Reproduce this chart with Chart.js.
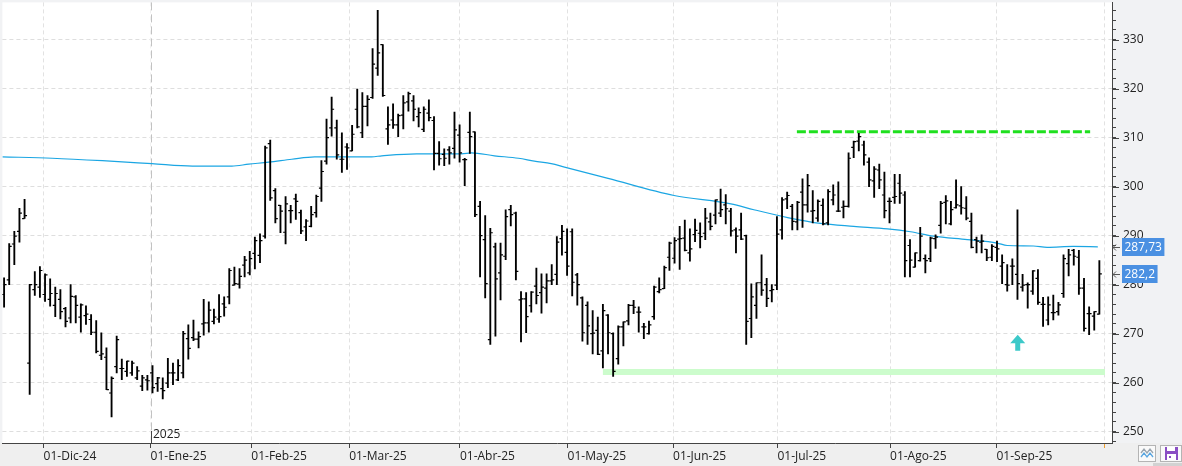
<!DOCTYPE html>
<html lang="es">
<head>
<meta charset="utf-8">
<title>Cotización diaria</title>
<script src="https://cdn.jsdelivr.net/npm/chart.js@4.4.1/dist/chart.umd.min.js"></script>
<style>
  html, body { margin: 0; padding: 0; background: #f1f2f4; overflow: hidden; }
  #contenedor { width: 1182px; height: 466px; position: relative; }
</style>
</head>
<body>
<div id="contenedor"><canvas id="grafico"></canvas></div>
<script>
// sesiones diarias, de mediados de noviembre 2024 a finales de septiembre 2025
const apertura = [
  278, 281, 288.3, 290.9, 293.5, 264, 279, 279.5, 278, 277,
  275.8, 277, 275.1, 273.2, 277.5, 273.4, 273.7, 272.9, 270.3, 265.6,
  265.2, 257.9, 263.3, 262.9, 262.3, 262, 261, 259.3, 260.6, 262,
  259.8, 258.8, 259.9, 262, 260.6, 262, 269, 269.2, 268.9, 272,
  272.2, 272.5, 273, 276.1, 277.5, 279.9, 280.1, 284, 282.4, 286.4,
  286, 289.9, 308.8, 299.2, 296.2, 290.7, 295.1, 297.5, 294.7, 291.8,
  291.9, 294.7, 299.7, 305.2, 312, 312, 305.6, 308.1, 307.3, 315.8,
  311, 316.4, 318.2, 324.2, 329, 311.8, 313.6, 312.6, 314.6, 317.3,
  317.5, 314.3, 311.7, 315, 313.5, 306.8, 306.6, 307.5, 307.8, 310.5,
  305.5, 311.1, 311.2, 296, 289.2, 268.8, 287.7, 282.4, 285.8, 295.3,
  294.6, 276.9, 277.1, 275.7, 279.7, 278.4, 279.3, 280.8, 282.1, 289.4,
  286.6, 290.8, 282, 277.3, 275.8, 270, 270.7, 266.5, 273.8, 270,
  264.9, 271.4, 272.6, 275.8, 274.4, 271.4, 270, 273.5, 278.6, 279.2,
  285.6, 285.4, 289.3, 289.5, 286.5, 290.2, 290.5, 290.5, 292.8, 294.2,
  294.6, 296.3, 295, 291.2, 291.2, 290, 273.1, 275.8, 280.4, 280,
  278.8, 279.9, 291.2, 297.5, 296, 292.8, 298.9, 296.3, 295, 293.6,
  296.2, 292.6, 297.3, 295, 295.8, 296, 308, 309.3, 308.5, 305,
  301.2, 303.4, 298.3, 297, 297.8, 300.7, 298.3, 288, 283.6, 284.9,
  285.3, 285.3, 289.4, 292.1, 296.8, 292.4, 295.7, 296.1, 295.6, 292.9,
  289.2, 288.7, 287.2, 285.6, 287.6, 283.8, 280, 283.8, 282.1, 279.5,
  280, 278.7, 281.3, 276, 272.8, 274.3, 274.5, 278.2, 284.3, 287,
  285.6, 279.3, 274.1, 273.6, 274
]
const maximo = [
  281.4, 288.4, 290.9, 295.6, 297.4, 280.1, 282.7, 283.7, 282.2, 281.2,
  279.5, 279, 275.4, 280, 277.8, 276.1, 275.7, 273.9, 272.7, 270.2,
  267.1, 261.2, 269.5, 264.8, 264.4, 264.4, 263.3, 261.5, 261.5, 263.5,
  261.1, 261, 265, 264, 264.7, 270.5, 271.8, 272.8, 270.4, 277,
  276.5, 275, 278, 277.5, 283.3, 283.6, 283.3, 285.8, 286.8, 289.7,
  290.4, 308.3, 309.5, 299.6, 296.2, 298, 296.2, 298.5, 295.2, 293.3,
  296, 298.3, 305.3, 313.8, 318.3, 313.6, 311, 308.8, 312.5, 319.9,
  319.2, 318.6, 328.2, 336, 329, 316.3, 316.9, 314.8, 318.6, 319.3,
  318.6, 316.1, 316.3, 317.7, 314.3, 309.2, 307.7, 308.2, 315.2, 312.6,
  305.8, 315.2, 311.2, 297, 294.1, 291.5, 288.5, 288.5, 295.3, 296.2,
  294.8, 278.6, 278.4, 278.6, 283.4, 282.2, 282.2, 284.1, 289.8, 292.1,
  291.4, 291.4, 282.3, 277.5, 276.5, 274.7, 273.4, 276, 273.9, 270.2,
  271.6, 272.4, 276, 276.8, 275.5, 272.1, 272.6, 279.7, 281.4, 283.8,
  288.7, 289.6, 291.9, 293.2, 291.4, 293.4, 292.6, 295.6, 294.6, 297.3,
  299.5, 298.4, 295.6, 291.6, 294.6, 290.1, 280.2, 280.4, 286.1, 281.3,
  280, 293.9, 297.8, 298.9, 296.4, 297, 301.6, 302.5, 299.2, 297.3,
  297.5, 299.4, 300.4, 301, 297.1, 306.9, 309.3, 310.9, 309.3, 305.9,
  304.1, 304.6, 303, 297.7, 302.5, 302.5, 299, 289.2, 286.5, 291.7,
  286.1, 289.7, 290.2, 297, 298.2, 297, 301.4, 300, 298, 294.6,
  289.7, 290.2, 287.2, 288.2, 288.9, 286.1, 284.1, 285.3, 295.3, 282.1,
  280.4, 282.9, 283.1, 277.4, 277.5, 277.9, 276.4, 286.1, 287.2, 287.2,
  287, 281.3, 275.5, 274.5, 284.9
]
const minimo = [
  275.4, 280, 284.1, 288.7, 293.5, 257.6, 277.8, 277.4, 276.6, 275.6,
  273.5, 273, 271.4, 272.2, 272.2, 270.3, 271.9, 269.8, 266.1, 264.7,
  258.6, 253, 262, 260.6, 261.3, 261.5, 260.6, 258.4, 258.5, 257.9,
  258.2, 256.7, 259, 259.6, 260.4, 261, 264.8, 268.6, 267.1, 269.7,
  270.3, 272, 272.3, 273.6, 276.1, 279.9, 279.3, 281.6, 282, 283.2,
  284.5, 289.5, 297.2, 292.6, 290.6, 288.3, 292.6, 293.3, 290.4, 289,
  291.8, 293.8, 297, 304.6, 310.3, 305.6, 302.9, 303.5, 307.3, 312,
  310, 312.4, 318, 322.7, 318.4, 308.6, 311.9, 310.2, 311.8, 315.4,
  313.4, 312.2, 311.2, 313.4, 303.4, 304.4, 304.3, 304.6, 305.8, 305,
  300.2, 306.8, 293.9, 281.6, 277.3, 267.8, 269.5, 276.9, 285.1, 292,
  281, 268.3, 270.2, 274.4, 276.1, 274.2, 276.3, 280, 280, 286,
  281.9, 277.7, 275.8, 268.5, 267.8, 265.9, 265.7, 263, 265.9, 261.3,
  263.8, 267.5, 271.8, 274.1, 270.3, 269, 269.9, 272.9, 278.3, 279.2,
  282.9, 284.4, 283.1, 286.9, 284.8, 288.8, 287.5, 289.2, 291.2, 292.4,
  293.9, 292.4, 289.9, 286.5, 289.2, 267.8, 269.2, 273.1, 277.8, 275.5,
  276.5, 279, 289.3, 295.5, 291.2, 291.2, 291.7, 294.8, 292.6, 292.9,
  292.2, 292.2, 296.3, 294.9, 293.6, 295.8, 305.9, 307.3, 304.4, 300,
  297.8, 299.6, 293.6, 292.6, 296.6, 296.6, 281.6, 281.6, 283.6, 284.8,
  282.4, 284.7, 287.4, 290.5, 292.4, 292.2, 295.6, 294.4, 293.2, 287.5,
  286.5, 286.5, 284.9, 284.9, 284.7, 280.2, 278.7, 280, 277, 278.7,
  275.2, 278, 276, 271.5, 271.8, 272.8, 273.8, 277.4, 281.8, 284,
  278, 270.5, 269.8, 270.7, 274
]
const cierre = [
  280, 287.8, 289.9, 294.6, 294.1, 280, 280, 282.9, 282, 278.2,
  278.2, 274.5, 272.5, 277.6, 275.8, 275.9, 274, 270.3, 266.4, 265.9,
  258.6, 260.9, 268.8, 262.9, 264.4, 264, 262.4, 261, 260.4, 259,
  261, 258.4, 262, 262, 263.5, 270, 267, 268.9, 269.4, 272.2,
  274.8, 273.4, 273.5, 275.4, 282.9, 280.2, 281.7, 285, 285.3, 289,
  289, 307.9, 297.7, 293.5, 295, 296.5, 295.1, 297, 291, 293,
  294.3, 298, 303.1, 310, 315.8, 306.5, 305.6, 307.9, 310.7, 312.2,
  316.4, 317.8, 325, 327.3, 318.6, 312.6, 312.6, 314.5, 317.1, 319,
  315.8, 315.1, 315.8, 314.1, 306.8, 305.7, 305.8, 306.9, 311.6, 306.9,
  305.5, 310.2, 294.3, 290, 280.2, 290.6, 281.2, 286.1, 293.9, 294.3,
  282.7, 277.1, 273.5, 278.5, 277.8, 279.5, 280.8, 281, 288.7, 290.9,
  283.8, 280.5, 280, 270.2, 271.6, 270.1, 265.8, 274.7, 270.2, 262.3,
  271.4, 272.4, 275.8, 275.4, 274.4, 271.4, 271.8, 279.5, 279, 283.5,
  288.5, 289, 289.4, 287, 287.3, 291.1, 289.8, 293.6, 291.9, 297.3,
  295.3, 295.5, 291, 289.9, 289.3, 272.5, 277.5, 280.4, 278.9, 277.2,
  279, 290.3, 297.3, 298.2, 292.9, 296.8, 296.3, 300.2, 295.1, 297,
  292.4, 299, 298.3, 295, 296, 305.8, 309.2, 310.2, 306.5, 301.4,
  303.6, 301.4, 295.1, 297, 298, 298.7, 284.9, 285, 286.5, 289.9,
  284.9, 289.5, 289.7, 296.6, 297.1, 295.3, 296.3, 295.7, 293.6, 287.6,
  288.9, 288.9, 285.5, 287.8, 287.3, 284.5, 279.9, 283.8, 280.2, 279.9,
  280, 282.8, 276.4, 276, 275.9, 274.3, 275.9, 285.3, 286.1, 285.8,
  279.3, 271.1, 274.1, 274.5, 282.2
]

// media movil (numero de sesion, valor)
const mediaX = [0.67, 10.4, 20.2, 29.9, 37.8, 45.5, 48.8, 52.7, 57.2, 61.7, 72.8, 74.8, 81.6, 90.4, 92.3, 96.8, 101.5, 104.6, 107.9, 110.5, 119, 131.9, 143, 147.5, 154.1, 160.5, 167, 173.6, 178.1, 182.6, 189.2, 195, 197, 202.1, 204.8, 209.9, 214.7]
const mediaY = [306.1, 305.8, 305.3, 304.7, 304.2, 304.2, 304.6, 305, 305.6, 306.1, 306.1, 306.3, 306.7, 306.7, 306.9, 306.3, 305.8, 305.2, 304.7, 304, 301.7, 298.2, 296.5, 295.3, 293.7, 292.5, 291.9, 291.4, 290.8, 289.9, 289.2, 288.5, 288, 287.9, 287.6, 287.8, 287.73]

// lineas dibujadas a mano sobre el grafico
const resistenciaX = [155.9, 213.2]
const resistenciaY = [311.2, 311.2]
const soporteX = [118, 216.1]
const soporteY = [262.2, 262.2]
const flechaX = 199.05
const flechaY = 269.8

const mesesPos = [8.72, 29.62, 49.31, 68.42, 90.06, 111.1, 131.7, 152.1, 174.1, 194.9, 215.95]
const mesesTxt = ['01-Dic-24', '01-Ene-25', '01-Feb-25', '01-Mar-25', '01-Abr-25', '01-May-25', '01-Jun-25', '01-Jul-25', '01-Ago-25', '01-Sep-25', '']
const precioValores = [287.73, 282.2]
const precioTextos = ['287,73', '282,2']

const ejeMin = 247.7
const ejeMax = 337.6
const pasoEje = 2

const fuente = "'Open Sans', 'Liberation Sans', sans-serif"

const sesiones = cierre.map((_, i) => i + 1)
const barras = sesiones.map((x, i) => ({ x: x, y: [minimo[i], maximo[i]] }))
const marcasApertura = sesiones.map((x, i) => ({ x: x - 0.25, y: apertura[i] }))
const marcasCierre = sesiones.map((x, i) => ({ x: x + 0.25, y: cierre[i] }))
const media = mediaX.map((x, i) => ({ x: x, y: mediaY[i] }))
const resistencia = resistenciaX.map((x, i) => ({ x: x, y: resistenciaY[i] }))
const soporte = soporteX.map((x, i) => ({ x: x, y: soporteY[i] }))

const ticksY = []
for (let v = Math.ceil(ejeMin / pasoEje) * pasoEje; v <= ejeMax; v += pasoEje) ticksY.push(v)

const marco = {
  id: 'marco',
  beforeDraw(chart) {
    const { ctx, chartArea: a, width, height } = chart
    ctx.save()
    ctx.fillStyle = '#f1f2f4'
    ctx.fillRect(0, 0, width, height)
    ctx.fillStyle = '#efefef'
    ctx.fillRect(0, a.bottom, width, height - a.bottom)
    ctx.fillStyle = '#ffffff'
    ctx.fillRect(a.left, a.top, a.right - a.left, a.bottom - a.top)
    ctx.restore()
  },
  beforeDatasetsDraw(chart) {
    // separador de año, trazo mas largo y oscuro que la rejilla
    const { ctx, chartArea: a, scales: { x } } = chart
    const ax = Math.round(x.getPixelForValue(mesesPos[1])) + 0.5
    ctx.save()
    ctx.fillStyle = '#ffffff'
    ctx.fillRect(ax - 1, a.top, 2, a.bottom - a.top)
    ctx.strokeStyle = '#c2c2c2'
    ctx.lineWidth = 1
    ctx.setLineDash([8, 4])
    ctx.beginPath()
    ctx.moveTo(ax, a.top)
    ctx.lineTo(ax, a.bottom - 12)
    ctx.stroke()
    ctx.restore()
  },
  afterDraw(chart) {
    const { ctx, chartArea: a, scales: { x, y } } = chart
    ctx.save()

    // flecha turquesa
    const fx = x.getPixelForValue(flechaX)
    const fy = y.getPixelForValue(flechaY)
    ctx.fillStyle = '#3cc9c9'
    ctx.beginPath()
    ctx.moveTo(fx, fy)
    ctx.lineTo(fx + 7.5, fy + 8.5)
    ctx.lineTo(fx + 2.5, fy + 8.5)
    ctx.lineTo(fx + 2.5, fy + 16)
    ctx.lineTo(fx - 2.5, fy + 16)
    ctx.lineTo(fx - 2.5, fy + 8.5)
    ctx.lineTo(fx - 7.5, fy + 8.5)
    ctx.closePath()
    ctx.fill()

    // marca del año
    const ax = Math.round(x.getPixelForValue(mesesPos[1])) + 0.5
    ctx.strokeStyle = '#444'
    ctx.lineWidth = 1
    ctx.beginPath()
    ctx.moveTo(ax, a.bottom - 12)
    ctx.lineTo(ax, a.bottom)
    ctx.stroke()
    ctx.font = '12px ' + fuente
    ctx.fillStyle = '#222'
    ctx.textBaseline = 'middle'
    ctx.textAlign = 'left'
    ctx.fillText('2025', ax + 1.5, a.bottom - 8)

    // rayas largas en las decenas del eje de precios
    ctx.strokeStyle = '#444'
    ticksY.filter((v) => v % 10 === 0).forEach((v) => {
      const py = Math.round(y.getPixelForValue(v)) + 0.5
      ctx.beginPath()
      ctx.moveTo(a.right, py)
      ctx.lineTo(a.right + 7, py)
      ctx.stroke()
    })

    // ultimos valores en el eje
    precioValores.forEach((v, i) => {
      const py = Math.round(y.getPixelForValue(v))
      const w = ctx.measureText(precioTextos[i]).width + 5
      ctx.fillStyle = '#4a90e2'
      ctx.fillRect(a.right + 10, py - 9, w, 18)
      ctx.fillStyle = '#ffffff'
      ctx.fillText(precioTextos[i], a.right + 12.5, py + 0.5)
      ctx.strokeStyle = '#555'
      ctx.beginPath()
      ctx.moveTo(a.right + 8, py + 0.5)
      ctx.lineTo(a.right + 1, py + 0.5)
      ctx.moveTo(a.right + 4, py - 2.5)
      ctx.lineTo(a.right + 1, py + 0.5)
      ctx.lineTo(a.right + 4, py + 3.5)
      ctx.stroke()
    })

    // botones de la esquina
    ctx.fillStyle = '#fafafa'
    ctx.strokeStyle = '#b4b4b4'
    ctx.fillRect(1138.5, 445.5, 17, 16)
    ctx.strokeRect(1138.5, 445.5, 17, 16)
    ctx.fillRect(1160.5, 445.5, 21, 16)
    ctx.strokeRect(1160.5, 445.5, 21, 16)
    ctx.lineWidth = 1.3
    ctx.strokeStyle = '#9aa4ae'
    ctx.beginPath()
    ctx.moveTo(1141, 453); ctx.lineTo(1144, 449); ctx.lineTo(1147, 453); ctx.lineTo(1150, 449); ctx.lineTo(1153, 453)
    ctx.stroke()
    ctx.strokeStyle = '#5aa6e0'
    ctx.beginPath()
    ctx.moveTo(1141, 457); ctx.lineTo(1144, 453); ctx.lineTo(1147, 457); ctx.lineTo(1150, 453); ctx.lineTo(1153, 457)
    ctx.stroke()
    ctx.fillStyle = '#8a4ec4'
    ctx.fillRect(1165, 447, 13, 13)
    ctx.fillStyle = '#ffffff'
    ctx.fillRect(1167, 447, 8, 4)
    ctx.fillRect(1167, 454, 9, 6)
    ctx.fillStyle = '#8a4ec4'
    ctx.fillRect(1169, 456, 2, 2)
    ctx.fillStyle = '#d2d2d2'
    ctx.fillRect(1153, 463, 29, 3)
    ctx.restore()
  }
}

new Chart(document.getElementById('grafico'), {
  type: 'bar',
  plugins: [marco],
  data: {
    datasets: [
      {
        type: 'line',
        label: 'soporte',
        data: soporte,
        borderColor: '#ccfccc',
        borderWidth: 6,
        pointRadius: 0,
        order: 10,
      },
      {
        type: 'line',
        label: 'media',
        data: media,
        borderColor: '#1ba6e3',
        borderWidth: 1.2,
        pointRadius: 0,
        cubicInterpolationMode: 'monotone',
        order: 5,
      },
      {
        type: 'line',
        label: 'resistencia',
        data: resistencia,
        borderColor: '#1fe01f',
        borderWidth: 3,
        borderDash: [9, 3],
        pointRadius: 0,
        order: 4,
      },
      {
        type: 'bar',
        label: 'rango',
        data: barras,
        backgroundColor: '#000000',
        borderWidth: 0,
        barThickness: 1.2,
        grouped: false,
        order: 2,
      },
      {
        type: 'scatter',
        label: 'apertura',
        data: marcasApertura,
        pointStyle: 'line',
        pointRadius: 1.2,
        pointHoverRadius: 1.2,
        pointBorderColor: '#000000',
        pointBorderWidth: 1.2,
        order: 1,
      },
      {
        type: 'scatter',
        label: 'cierre',
        data: marcasCierre,
        pointStyle: 'line',
        pointRadius: 1.2,
        pointHoverRadius: 1.2,
        pointBorderColor: '#000000',
        pointBorderWidth: 1.2,
        order: 1,
      },
    ],
  },
  options: {
    responsive: true,
    maintainAspectRatio: false,
    animation: false,
    events: [],
    devicePixelRatio: 1,
    layout: { padding: 0 },
    plugins: {
      legend: { display: false },
      tooltip: { enabled: false },
    },
    scales: {
      x: {
        type: 'linear',
        min: 0.67,
        max: 217.47,
        offset: false,
        afterBuildTicks: (eje) => { eje.ticks = mesesPos.map((v) => ({ value: v })) },
        afterFit: (eje) => {
          eje.height = 23
          eje.paddingLeft = 0
          eje.paddingRight = 0
        },
        grid: {
          offset: false,
          color: '#e2e2e2',
          tickColor: (c) => (c.index === mesesPos.length - 1 ? '#f0a030' : '#444'),
          tickLength: 5,
        },
        border: { color: '#444', dash: [4, 3] },
        ticks: {
          align: 'start',
          autoSkip: false,
          maxRotation: 0,
          padding: 1,
          color: '#222',
          font: { family: fuente, size: 12 },
          callback: (v, i) => mesesTxt[i],
        },
      },
      y: {
        type: 'linear',
        position: 'right',
        min: ejeMin,
        max: ejeMax,
        afterBuildTicks: (eje) => { eje.ticks = ticksY.map((v) => ({ value: v })) },
        afterFit: (eje) => {
          eje.width = 70
          eje.paddingTop = 0
          eje.paddingBottom = 0
        },
        grid: {
          color: (c) => (c.tick && c.tick.value % 10 === 0 ? '#dedede' : 'rgba(0,0,0,0)'),
          tickColor: '#444',
          tickLength: 4,
        },
        border: { color: '#444', dash: [4, 3] },
        ticks: {
          autoSkip: false,
          padding: 7,
          color: '#222',
          font: { family: fuente, size: 12 },
          callback: (v) => (v % 10 === 0 ? v : ''),
        },
      },
    },
  },
})
</script>
</body>
</html>
